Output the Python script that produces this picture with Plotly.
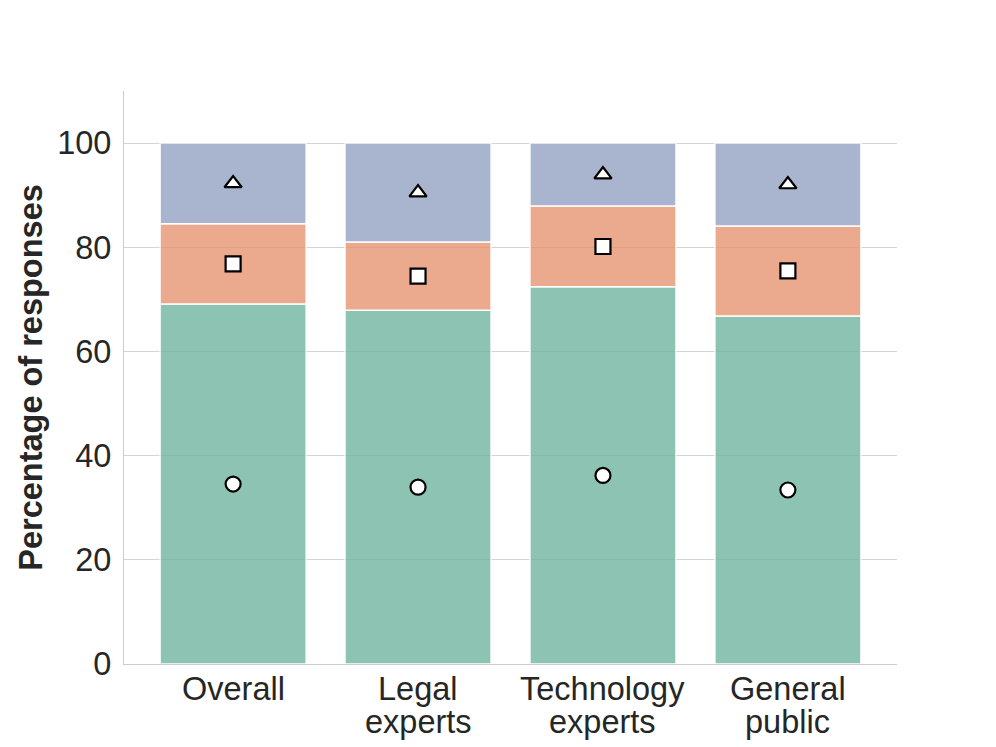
import plotly.graph_objects as go
import numpy as np

categories = ["Overall", "Legal<br>experts", "Technology<br>experts", "General<br>public"]
green_vals = [69.1, 67.9, 72.4, 66.8]
orange_vals = [15.4, 13.1, 15.5, 17.3]
blue_vals = [15.5, 19.0, 12.1, 15.9]
y_ticks = [0, 20, 40, 60, 80, 100]

series = [
    (green_vals, "rgb(113,181,159)", "circle"),
    (orange_vals, "rgb(231,148,114)", "square"),
    (blue_vals, "rgb(148,163,195)", "triangle-up"),
]

FONT = "Liberation Sans, Arial, sans-serif"
FS = 32.5
TXT = "#262626"
fig = go.Figure()
base = np.zeros(len(categories))
for vals, col, sym in series:
    v = np.array(vals)
    fig.add_trace(go.Bar(x=categories, y=v, base=base, marker=dict(color=col, opacity=0.8,
                         line=dict(color="white", width=1.5)), showlegend=False, hoverinfo="skip"))
    fig.add_trace(go.Scatter(x=categories, y=base + v / 2, mode="markers", showlegend=False,
                             marker=dict(symbol=sym, size=15, color="white",
                                         line=dict(color="black", width=2.2))))
    base = base + v

# category labels, one text per line for tighter line spacing
for cat in categories:
    for i, line in enumerate(cat.split("<br>")):
        fig.add_annotation(x=cat, xref="x", y=0, yref="paper", yanchor="middle",
                           yshift=-25 - 33 * i, text=line, showarrow=False,
                           font=dict(family=FONT, size=FS, color=TXT))

fig.update_layout(
    width=996, height=747,
    margin=dict(l=116, r=107, t=83, b=91),
    paper_bgcolor="white", plot_bgcolor="white",
    barmode="overlay", bargap=0.21,
    font=dict(family=FONT, size=FS, color=TXT),
)
fig.update_xaxes(range=[-0.59, 3.59], showline=True, linecolor="#cccccc", linewidth=1.2,
                 showgrid=False, ticks="", automargin=False, showticklabels=False)
fig.update_yaxes(range=[0, 110], tickvals=y_ticks, showline=True, linecolor="#cccccc", linewidth=1.2,
                 showgrid=True, gridcolor="#d4d4d4", gridwidth=1, zeroline=False,
                 ticks="outside", ticklen=5, tickcolor="rgba(0,0,0,0)", automargin=False,
                 tickfont=dict(size=FS, color=TXT),
                 title=dict(text="<b>Percentage of responses</b>", font=dict(size=FS, color=TXT), standoff=4))

fig.write_html("out.html")
